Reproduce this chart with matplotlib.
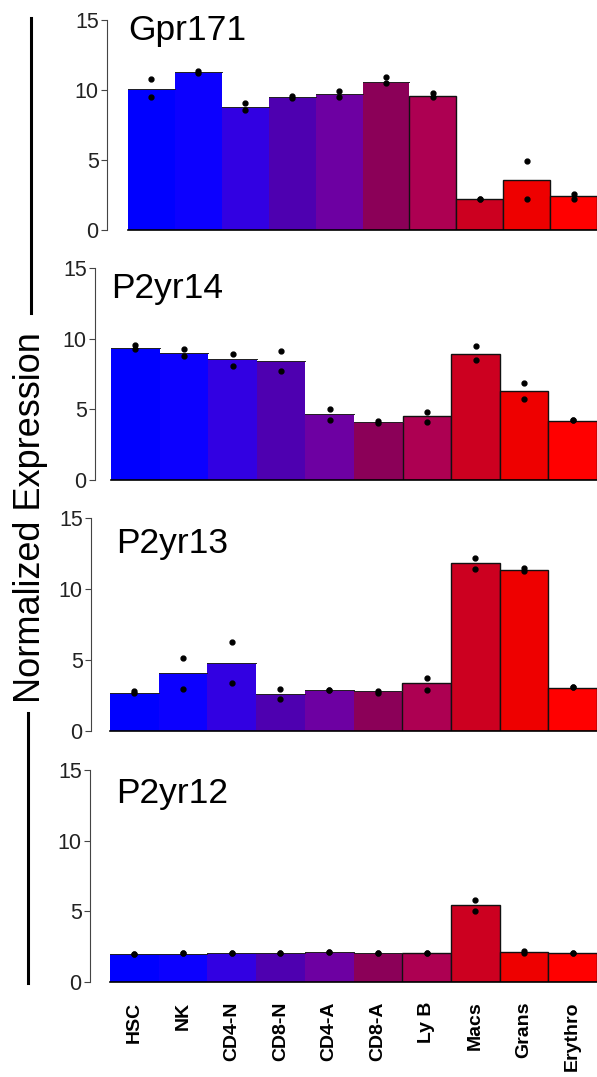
import matplotlib
matplotlib.use("Agg")
import numpy as np
import matplotlib.pyplot as plt
from matplotlib.lines import Line2D

plt.rcParams['font.family'] = ['Liberation Sans', 'DejaVu Sans']

W, H = 597, 1077

cells = ["HSC", "NK", "CD4-N", "CD8-N", "CD4-A", "CD8-A", "Ly B", "Macs", "Grans", "Erythro"]
colors = ["#0000FF", "#0C00FF", "#3200E2", "#4E00B0", "#6D00A2", "#8B0058",
          "#AD0052", "#CC0020", "#EE0000", "#FF0000"]

genes = ["Gpr171", "P2yr14", "P2yr13", "P2yr12"]

# bar means
gpr171 = [10.1, 11.3, 8.8, 9.5, 9.7, 10.6, 9.6, 2.2, 3.6, 2.4]
p2yr14 = [9.35, 9.0, 8.55, 8.4, 4.65, 4.1, 4.5, 8.9, 6.3, 4.2]
p2yr13 = [2.7, 4.05, 4.8, 2.6, 2.9, 2.8, 3.35, 11.8, 11.35, 3.05]
p2yr12 = [2.0, 2.0, 2.05, 2.05, 2.12, 2.05, 2.05, 5.42, 2.12, 2.05]

# replicate points (two per cell type)
gpr171_a = [10.8, 11.2, 9.1, 9.6, 9.9, 10.9, 9.8, 2.2, 4.9, 2.6]
gpr171_b = [9.5, 11.35, 8.6, 9.4, 9.5, 10.5, 9.5, 2.2, 2.2, 2.25]
p2yr14_a = [9.55, 9.3, 8.95, 9.1, 5.0, 4.15, 4.8, 9.45, 6.85, 4.25]
p2yr14_b = [9.3, 8.75, 8.1, 7.7, 4.25, 4.05, 4.1, 8.5, 5.75, 4.22]
p2yr13_a = [2.85, 5.15, 6.3, 2.95, 2.9, 2.85, 3.7, 12.15, 11.5, 3.1]
p2yr13_b = [2.7, 2.95, 3.4, 2.25, 2.88, 2.7, 2.9, 11.4, 11.3, 3.08]
p2yr12_a = [2.0, 2.02, 2.05, 2.05, 2.14, 2.05, 2.05, 5.8, 2.2, 2.07]
p2yr12_b = [2.0, 2.02, 2.05, 2.05, 2.12, 2.05, 2.05, 5.02, 2.05, 2.07]

means = [gpr171, p2yr14, p2yr13, p2yr12]
reps = [(gpr171_a, gpr171_b), (p2yr14_a, p2yr14_b), (p2yr13_a, p2yr13_b), (p2yr12_a, p2yr12_b)]

# panel boxes in pixels: left, zero line y, 15 line y, spine offset, title x, title baseline
panels = [
    (128, 230, 20, 21, 0.0, 13.6),
    (111, 480, 268, 16, 0.0, 12.9),
    (110, 731, 518, 19, 0.12, 12.5),
    (110, 982, 770, 20, 0.12, 12.66),
]

fig = plt.figure(figsize=(W / 100, H / 100), dpi=100)

x = np.arange(len(cells)) + 0.5
for i, (left, y0, y15, off, tx, ty) in enumerate(panels):
    ax = fig.add_axes([left / W, (H - y0) / H, (W - left) / W, (y0 - y15) / H])
    ec = ["none"] * 6 + ["#111111"] * 4
    ax.bar(x, means[i], width=1.0, color=colors, edgecolor=ec, linewidth=1.0)
    # thin tops on the edgeless bars
    for j in range(6):
        ax.plot([j, j + 1], [means[i][j], means[i][j]], color="#222222", lw=0.7)
    a, b = reps[i]
    ax.plot(x, a, "o", color="black", ms=3.5, clip_on=False)
    ax.plot(x, b, "o", color="black", ms=3.5, clip_on=False)
    ax.set_xlim(0, 10)
    ax.set_ylim(0, 15)
    ax.spines["top"].set_visible(False)
    ax.spines["right"].set_visible(False)
    ax.spines["bottom"].set_linewidth(1.2)
    ax.spines["left"].set_position(("outward", off * 0.72))
    ax.spines["left"].set_bounds(0, 15)
    ax.spines["left"].set_color("#444444")
    ax.spines["left"].set_linewidth(0.8)
    ax.set_yticks([0, 5, 10, 15])
    ax.tick_params(axis="y", length=4, width=0.8, color="#444444", labelsize=15.5,
                   labelcolor="#222222", pad=2)
    ax.set_xticks(x)
    if i == 3:
        ax.set_xticklabels(cells, rotation=90, fontsize=14, fontweight="bold", va="top")
        ax.tick_params(axis="x", length=0, pad=14)
    else:
        ax.set_xticklabels([])
        ax.tick_params(axis="x", length=0)
    ax.set_facecolor("none")
    ax.text(tx, ty, genes[i], fontsize=25.5, ha="left", va="baseline", color="black")

fig.text(31 / W, 1 - 518 / H, "Normalized Expression", rotation=90, fontsize=26,
         ha="center", va="center")
fig.add_artist(Line2D([31 / W, 31 / W], [1 - 18 / H, 1 - 313 / H], color="black", lw=2.2))
fig.add_artist(Line2D([28 / W, 28 / W], [1 - 713 / H, 1 - 983 / H], color="black", lw=2.2))

fig.savefig("out.png", dpi=100)
